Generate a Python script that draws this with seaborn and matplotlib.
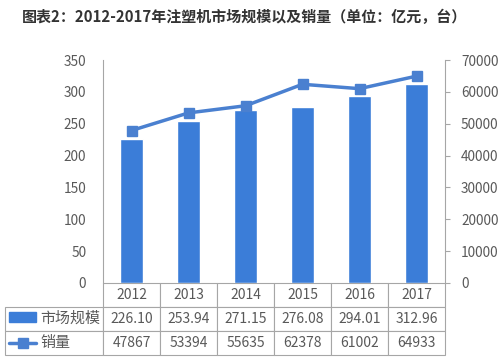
import matplotlib
matplotlib.use("Agg")
import matplotlib.pyplot as plt
from matplotlib.patches import Rectangle
from matplotlib.lines import Line2D
import seaborn as sns

# Data
years = ["2012", "2013", "2014", "2015", "2016", "2017"]
market_size = [226.10, 253.94, 271.15, 276.08, 294.01, 312.96]  # 亿元
sales = [47867, 53394, 55635, 62378, 61002, 64933]  # 台
left_ticks = [0, 50, 100, 150, 200, 250, 300, 350]
right_ticks = [0, 10000, 20000, 30000, 40000, 50000, 60000, 70000]

bar_color = "#3b7dd8"
line_color = "#4a80d0"
text_color = "#595959"
edge_color = "#a6a6a6"

sns.set_theme(style="white")
plt.rcParams["font.family"] = ["Noto Sans CJK SC", "DejaVu Sans"]

W, H = 504, 364
fig = plt.figure(figsize=(W / 100, H / 100), dpi=100)
ax = fig.add_axes([103 / W, 1 - 283 / H, 342 / W, 223 / H])

# Bars
sns.barplot(x=years, y=market_size, ax=ax, color=bar_color, width=0.4,
            saturation=1, errorbar=None)
ax.set_xlim(-0.5, len(years) - 0.5)
ax.set_ylim(0, 350)
ax.set_yticks(left_ticks)
ax.tick_params(axis="y", labelsize=9.8, colors=text_color, length=0, pad=12)
ax.set_xticks([])
ax.set_xlabel("")
ax.set_ylabel("")

# Line on secondary axis
ax2 = ax.twinx()
ax2.plot(range(len(years)), sales, color=line_color, linewidth=2.5,
         marker="s", markersize=7.5, zorder=3)
ax2.set_ylim(0, 70000)
ax2.set_yticks(right_ticks)
ax2.tick_params(axis="y", labelsize=9.8, colors=text_color, length=3.5,
                width=0.8, pad=8, direction="out")
ax2.tick_params(axis="y", color=edge_color)
ax2.set_xticks([])

for a in (ax, ax2):
    for side in ("top", "bottom"):
        a.spines[side].set_visible(False)
    a.spines["left"].set_color(edge_color)
    a.spines["right"].set_color(edge_color)
    a.spines["left"].set_linewidth(0.8)
    a.spines["right"].set_linewidth(0.8)
ax.spines["right"].set_visible(False)
ax2.spines["left"].set_visible(False)

# Data table below the plot
cell_text = [[""] + years,
             [""] + [f"{v:.2f}" for v in market_size],
             [""] + [str(v) for v in sales]]
col_widths = [98 / 342] + [57 / 342] * len(years)
table = ax.table(cellText=cell_text, colWidths=col_widths, cellLoc="center",
                 bbox=[(5 - 103) / 342, -72 / 223, 440 / 342, 72 / 223])
table.auto_set_font_size(False)
table.set_fontsize(10)
for (r, c), cell in table.get_celld().items():
    cell.set_edgecolor(edge_color)
    cell.set_linewidth(0.8)
    cell.get_text().set_color(text_color)
    if r == 0 and c == 0:
        cell.visible_edges = ""

# Row labels with legend keys
fig.add_artist(Rectangle((9 / W, 1 - 322 / H), 27 / W, 10 / H,
                         transform=fig.transFigure, color=bar_color))
fig.add_artist(Line2D([9 / W, 36 / W], [1 - 343 / H, 1 - 343 / H],
                      transform=fig.transFigure, color=line_color,
                      linewidth=2.5))
fig.add_artist(Line2D([22.5 / W], [1 - 343 / H], transform=fig.transFigure,
                      color=line_color, marker="s", markersize=7,
                      linestyle="none"))
fig.text(40 / W, 1 - 319 / H, "市场规模", fontsize=10.8, color=text_color,
         va="center", ha="left")
fig.text(40 / W, 1 - 343 / H, "销量", fontsize=10.8, color=text_color,
         va="center", ha="left")

# Title
fig.text(22 / W, 1 - 17 / H, "图表2：2012-2017年注塑机市场规模以及销量（单位：亿元，台）",
         fontsize=10.8, fontweight="bold", color="#333333",
         va="center", ha="left")

fig.savefig("out.png", dpi=100, facecolor="white")
